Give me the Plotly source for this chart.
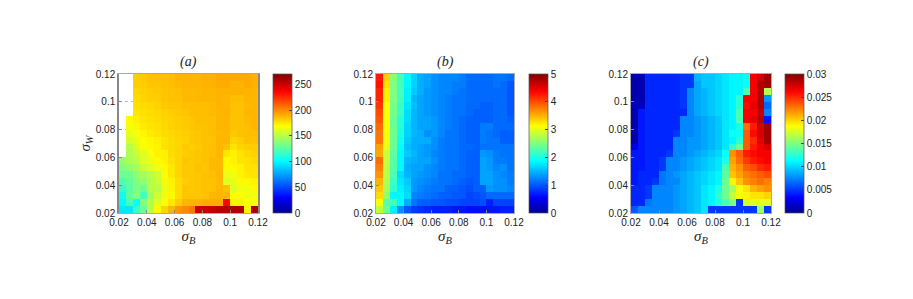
import plotly.graph_objects as go

N = None
sigma_edges = [0.02, 0.025, 0.03, 0.035, 0.04, 0.045, 0.05, 0.055, 0.06, 0.065, 0.07,
               0.075, 0.08, 0.085, 0.09, 0.095, 0.1, 0.105, 0.11, 0.115, 0.12]
tick_vals = [0.02, 0.04, 0.06, 0.08, 0.1, 0.12]
tick_text = ["0.02", "0.04", "0.06", "0.08", "0.1", "0.12"]

# rows listed top (sigma_W = 0.12) to bottom (sigma_W = 0.02)
values_a = [
 [N,N,182,183,185,185,185,186,188,188,188,188,189,189,191,191,191,191,191,189],
 [N,N,182,182,184,184,185,186,187,188,188,188,189,189,191,191,189,189,191,189],
 [N,N,180,181,182,183,184,185,186,187,187,187,188,188,189,189,189,189,188,188],
 [N,N,178,180,182,182,184,185,185,187,187,188,188,188,189,188,186,186,188,188],
 [N,N,177,178,179,181,183,184,184,186,186,186,186,187,189,188,185,185,187,188],
 [N,N,175,177,178,179,181,182,183,184,186,186,186,187,188,189,185,185,188,188],
 [N,170,173,176,177,178,180,181,182,183,184,186,186,186,188,188,185,185,187,188],
 [N,166,171,174,176,177,179,181,182,183,184,185,185,186,188,188,185,185,186,188],
 [N,163,166,171,174,176,178,179,181,182,183,184,185,186,187,188,183,185,186,186],
 [N,158,163,168,171,173,176,178,180,181,183,184,185,185,188,188,180,182,185,185],
 [N,150,160,168,170,172,177,178,180,183,182,183,185,186,188,185,176,180,182,182],
 [N,147,155,160,168,172,172,178,180,182,183,184,185,186,188,175,172,176,179,181],
 [140,147,150,160,163,170,172,177,180,184,183,184,185,187,187,170,172,176,177,179],
 [135,140,145,155,160,165,170,175,180,183,183,185,184,187,187,170,170,172,176,177],
 [130,130,140,145,150,155,168,175,180,183,183,184,185,186,188,163,165,172,175,176],
 [122,128,135,140,148,155,165,172,178,182,183,184,185,185,187,160,163,170,170,172],
 [115,125,135,130,150,150,163,172,178,184,183,184,185,185,188,185,160,165,165,170],
 [105,128,135,120,145,155,165,170,178,184,184,184,185,188,188,188,168,168,165,165],
 [100,120,103,135,150,160,168,175,182,188,189,189,191,191,191,235,172,172,168,168],
 [95,95,115,130,150,170,180,188,196,200,205,250,250,252,255,255,257,258,172,258],
]

values_b = [
 [4.25,3.35,2.55,2.2,1.85,1.65,1.45,1.4,1.3,1.25,1.25,1.25,1.2,1.1,1.1,1.1,1.1,1.15,1.15,1.1],
 [4.3,3.3,2.5,2.2,1.85,1.65,1.45,1.4,1.3,1.25,1.25,1.2,1.2,1.1,1.1,1.1,1.1,1.15,1.1,1.0],
 [4.2,3.2,2.5,2.2,1.8,1.6,1.45,1.35,1.3,1.25,1.25,1.2,1.15,1.1,1.1,1.1,1.1,1.1,1.1,1.0],
 [4.2,3.2,2.5,2.2,1.8,1.5,1.4,1.35,1.3,1.25,1.2,1.15,1.15,1.1,1.1,1.1,1.1,1.1,1.1,1.0],
 [4.1,3.1,2.45,2.15,1.75,1.55,1.4,1.35,1.3,1.25,1.2,1.15,1.15,1.1,1.1,1.05,1.05,1.1,1.1,1.0],
 [4.0,3.1,2.45,2.15,1.7,1.5,1.4,1.35,1.3,1.25,1.2,1.15,1.15,1.1,1.05,1.05,1.05,1.1,1.1,1.0],
 [3.95,3.1,2.4,2.05,1.7,1.5,1.4,1.4,1.35,1.25,1.2,1.15,1.1,1.05,1.05,1.05,1.05,1.1,1.1,1.05],
 [3.85,3.1,2.4,2.05,1.65,1.5,1.4,1.4,1.35,1.25,1.2,1.15,1.1,1.05,1.05,1.2,1.2,1.1,1.1,1.1],
 [3.8,3.05,2.45,2.0,1.65,1.5,1.45,1.3,1.35,1.25,1.15,1.15,1.1,1.05,1.05,1.2,1.15,1.1,1.05,1.05],
 [3.8,3.05,2.4,1.95,1.6,1.45,1.45,1.45,1.3,1.2,1.15,1.15,1.1,1.05,1.05,1.2,1.15,1.15,1.05,1.05],
 [3.6,3.0,2.4,1.9,1.55,1.45,1.4,1.35,1.3,1.2,1.15,1.15,1.1,1.1,1.05,1.15,1.15,1.15,1.15,1.15],
 [3.55,2.85,2.35,1.85,1.6,1.5,1.4,1.35,1.25,1.2,1.15,1.15,1.1,1.05,1.05,1.35,1.3,1.2,1.15,1.15],
 [3.85,2.85,2.3,1.85,1.5,1.45,1.4,1.4,1.3,1.2,1.15,1.15,1.1,1.05,1.05,1.4,1.35,1.2,1.2,1.15],
 [3.75,2.8,2.3,1.85,1.45,1.4,1.4,1.3,1.25,1.2,1.15,1.15,1.1,1.05,1.05,1.4,1.35,1.25,1.3,1.15],
 [3.65,2.8,2.25,1.7,1.5,1.4,1.35,1.3,1.25,1.15,1.15,1.1,1.1,1.05,1.05,1.4,1.4,1.3,1.25,1.2],
 [3.5,2.75,2.15,1.75,1.6,1.35,1.3,1.25,1.2,1.15,1.15,1.1,1.05,1.0,1.05,1.4,1.4,1.3,1.3,1.2],
 [3.4,2.7,2.1,1.8,1.65,1.35,1.25,1.2,1.15,1.15,1.05,1.05,1.0,0.95,1.05,1.05,1.35,1.3,1.3,1.25],
 [3.3,2.6,1.85,1.85,1.7,1.25,1.2,1.15,1.1,1.05,1.05,1.0,1.0,0.9,0.95,1.0,1.1,1.1,1.1,1.1],
 [3.1,2.3,2.2,1.85,1.45,1.15,1.05,1.05,1.0,1.0,0.95,0.95,0.9,0.9,0.9,0.95,0.7,0.9,0.9,0.9],
 [2.8,2.4,1.8,1.3,1.0,0.85,0.8,0.75,0.7,0.7,0.7,0.65,0.65,0.6,0.6,0.6,0.65,0.65,0.7,0.7],
]

values_c = [
 [.001,.001,.0045,.0045,.0045,.0045,.0045,.005,.005,.009,.0095,.0095,.01,.0105,.011,.011,.0115,.0265,.0275,.029],
 [.001,.001,.0045,.0045,.0045,.0045,.0045,.005,.005,.0085,.0095,.0095,.01,.0105,.011,.011,.0115,.0265,.0285,.029],
 [.001,.001,.0045,.0045,.0045,.0045,.0045,.005,.0075,.0085,.009,.0095,.01,.0105,.011,.011,.0135,.0265,.0285,.0165],
 [.001,.001,.0045,.0045,.0045,.0045,.0045,.005,.0075,.0085,.009,.0095,.01,.0105,.011,.0125,.0265,.0265,.0285,.008],
 [.0015,.0015,.0045,.0045,.0045,.0045,.0045,.005,.0075,.0085,.009,.0095,.01,.0105,.011,.0125,.026,.027,.0285,.0065],
 [.001,.004,.0045,.0045,.0045,.0045,.0045,.0045,.0075,.0085,.009,.0095,.01,.0105,.011,.0135,.0265,.0265,.028,.0075],
 [.001,.004,.0045,.0045,.0045,.0045,.0045,.0075,.0075,.008,.0085,.009,.0095,.0105,.011,.0135,.0265,.027,.0285,.004],
 [.001,.004,.0045,.0045,.0045,.0045,.0045,.0075,.0075,.008,.0085,.009,.0095,.0105,.011,.012,.023,.0255,.0275,.029],
 [.001,.004,.0045,.0045,.0045,.0045,.005,.0075,.0075,.008,.0085,.009,.0095,.0105,.0115,.0115,.0235,.026,.0275,.029],
 [.001,.004,.0045,.0045,.0045,.0045,.0075,.0075,.008,.008,.0085,.009,.0095,.0105,.011,.0125,.0235,.025,.027,.029],
 [.0025,.004,.0045,.0045,.0045,.0045,.0075,.0075,.008,.008,.0085,.009,.0095,.0105,.0125,.0145,.0235,.0255,.0265,.0275],
 [.004,.004,.0045,.0045,.0045,.005,.0075,.0075,.008,.0085,.009,.0095,.01,.0115,.022,.0235,.0255,.026,.0265,.0265],
 [.004,.004,.0045,.0045,.005,.0075,.0075,.008,.0085,.009,.0095,.01,.0105,.012,.0215,.023,.0245,.0255,.026,.0265],
 [.004,.004,.0045,.0045,.005,.0075,.0075,.008,.0085,.009,.0095,.01,.0105,.0135,.021,.022,.0235,.024,.025,.0255],
 [.004,.0045,.0045,.0045,.007,.0075,.008,.0085,.009,.0095,.01,.0105,.011,.014,.0205,.0215,.0225,.023,.0235,.024],
 [.004,.0045,.0045,.005,.007,.0075,.0075,.0085,.009,.0095,.01,.0105,.011,.0145,.019,.0205,.022,.0225,.023,.0225],
 [.0045,.0045,.005,.0075,.0075,.0075,.008,.0085,.009,.0095,.0105,.011,.012,.0145,.016,.0185,.0195,.021,.0215,.022],
 [.0045,.0045,.005,.0075,.0075,.0075,.008,.0085,.009,.0095,.0105,.011,.0125,.0145,.017,.0185,.019,.0195,.0195,.02],
 [.0045,.0045,.007,.0075,.0075,.0075,.008,.0085,.009,.0095,.0105,.011,.012,.0135,.015,.005,.0175,.018,.018,.018],
 [.006,.0075,.0075,.0075,.0075,.0075,.008,.0085,.009,.0095,.0105,.005,.005,.005,.005,.005,.005,.005,.016,.005],
]

colorbar_a_ticks = [0, 50, 100, 150, 200, 250]
colorbar_b_ticks = [0, 1, 2, 3, 4, 5]
colorbar_c_ticks = [0, 0.005, 0.01, 0.015, 0.02, 0.025, 0.03]
colorbar_c_text = ["0", "0.005", "0.01", "0.015", "0.02", "0.025", "0.03"]
titles = ["<i>(a)</i>", "<i>(b)</i>", "<i>(c)</i>"]

W, H = 913, 299
jet = [[0, "#00008f"], [0.11, "#0000ff"], [0.375, "#00ffff"], [0.625, "#ffff00"],
       [0.875, "#ff0000"], [1, "#800000"]]
FONT = "Liberation Sans"
SERIF = "Liberation Serif"
TXT = "#222222"

panels = [
    dict(z=values_a, zmax=270, x0=119, x1=258, cb=273, ticks=colorbar_a_ticks, text=None),
    dict(z=values_b, zmax=5, x0=376, x1=514, cb=529, ticks=colorbar_b_ticks, text=None),
    dict(z=values_c, zmax=0.03, x0=631, x1=771, cb=785, ticks=colorbar_c_ticks, text=colorbar_c_text),
]
Y0, Y1 = 74, 213

fig = go.Figure()
layout = {}
for i, p in enumerate(panels):
    sx = "" if i == 0 else str(i + 1)
    cb = dict(x=p["cb"] / W, xanchor="left", xpad=0, ypad=0, thickness=19, thicknessmode="pixels",
              y=1 - Y1 / H, yanchor="bottom", len=(Y1 - Y0) / H, lenmode="fraction",
              tickmode="array", tickvals=p["ticks"], ticks="inside", ticklen=3, tickcolor="#444444",
              outlinecolor="#555555", outlinewidth=0.7,
              tickfont=dict(family=FONT, size=10, color=TXT))
    if p["text"]:
        cb["ticktext"] = p["text"]
    fig.add_trace(go.Heatmap(z=p["z"][::-1], x=sigma_edges, y=sigma_edges, zmin=0, zmax=p["zmax"],
                             colorscale=jet, colorbar=cb, xaxis="x" + sx, yaxis="y" + sx,
                             hoverongaps=False))
    layout["xaxis" + sx] = dict(domain=[p["x0"] / W, p["x1"] / W], range=[0.02, 0.12], anchor="y" + sx,
                                tickmode="array", tickvals=tick_vals, ticktext=tick_text,
                                ticks="inside", ticklen=3, tickcolor="#888888",
                                showline=True, linecolor="#aaaaaa", linewidth=1, mirror=True,
                                showgrid=False, zeroline=False,
                                tickfont=dict(family=FONT, size=10, color=TXT),
                                title=dict(text="<i>σ<sub>B</sub></i>", standoff=0,
                                           font=dict(family=SERIF, size=15, color=TXT)))
    layout["yaxis" + sx] = dict(domain=[1 - Y1 / H, 1 - Y0 / H], range=[0.02, 0.12], anchor="x" + sx,
                                tickmode="array", tickvals=tick_vals, ticktext=tick_text,
                                ticks="inside", ticklen=3, tickcolor="#888888",
                                showline=True, linecolor="#aaaaaa", linewidth=1, mirror=True,
                                showgrid=(i == 0), gridcolor="#bbbbbb", griddash="dot", gridwidth=1,
                                zeroline=False,
                                tickfont=dict(family=FONT, size=10, color=TXT))
layout["yaxis"]["title"] = dict(text="<i>σ<sub>W</sub></i>", standoff=2,
                                font=dict(family=SERIF, size=15, color=TXT))
layout["yaxis"]["linecolor"] = "#888888"
layout["yaxis"]["linewidth"] = 1.5
ann = [dict(text=titles[i], xref="paper", yref="paper",
            x=(p["x0"] + p["x1"]) / 2 / W, y=1 - 72 / H, xanchor="center", yanchor="bottom",
            showarrow=False, font=dict(family=SERIF, size=14, color=TXT))
       for i, p in enumerate(panels)]

fig.update_layout(width=W, height=H, margin=dict(l=0, r=0, t=0, b=0, autoexpand=False), autosize=False,
                  paper_bgcolor="white", plot_bgcolor="white", annotations=ann, **layout)
fig.write_html("out.html", post_script="document.body.style.margin='0';",
               config={"displayModeBar": False})
